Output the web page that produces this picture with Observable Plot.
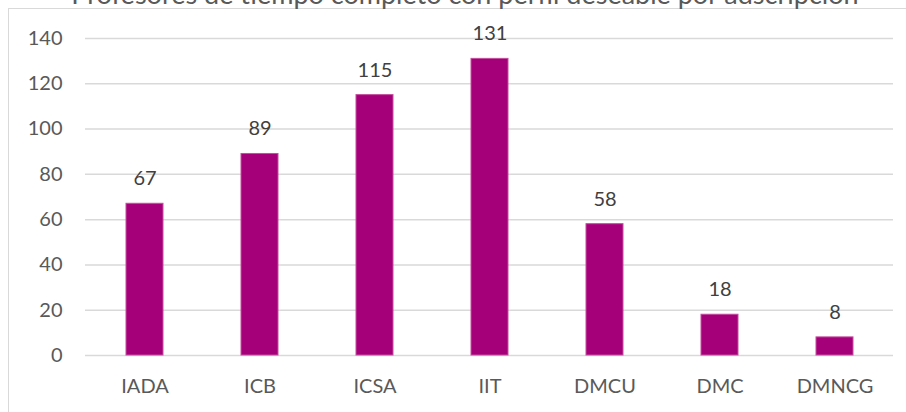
<!DOCTYPE html>
<html>
<head>
<meta charset="utf-8">
<script src="https://cdn.jsdelivr.net/npm/d3@7"></script>
<script src="https://cdn.jsdelivr.net/npm/@observablehq/plot@0.6"></script>
<style>
  html, body { margin: 0; padding: 0; background: #fff; overflow: hidden; }
  #wrap { position: relative; width: 906px; height: 412px; overflow: hidden; }
  #frame { position: absolute; left: 8px; top: 8px; width: 1000px; height: 1000px; border: 1.5px solid #d9d9d9; box-sizing: border-box; }
  #title { position: absolute; left: 12px; width: 906px; top: -23px; line-height: 27px; text-align: center; font: 27px Lato, "Open Sans", sans-serif; color: #595959; white-space: nowrap; }
  #chart { position: absolute; left: 0; top: 0; }
</style>
</head>
<body>
<div id="wrap">
  <div id="frame"></div>
  <div id="title">Profesores de tiempo completo con perfil deseable por adscripción</div>
  <div id="chart"></div>
</div>
<script>
const categories = ["IADA", "ICB", "ICSA", "IIT", "DMCU", "DMC", "DMNCG"];
const values = [67, 89, 115, 131, 58, 18, 8];
const yTicks = [0, 20, 40, 60, 80, 100, 120, 140];

const data = categories.map((c, i) => ({ category: c, value: values[i] }));

const chart = Plot.plot({
  width: 906,
  height: 412,
  marginLeft: 85,
  marginRight: 13,
  marginTop: 38,
  marginBottom: 57,
  style: { fontFamily: "Lato, 'Open Sans', sans-serif", fontSize: "20px", background: "transparent", overflow: "visible" },
  x: { domain: categories, paddingInner: 0.68, paddingOuter: 0.34, label: null },
  y: { domain: [0, 140], label: null },
  marks: [
    Plot.ruleY(yTicks, { stroke: "#d9d9d9", strokeWidth: 1.5 }),
    Plot.axisY({ ticks: yTicks, tickSize: 0, tickPadding: 23, fontSize: 20, color: "#595959", label: null }),
    Plot.axisX({ tickSize: 0, tickPadding: 23, fontSize: 20, color: "#595959", label: null }),
    Plot.barY(data, { x: "category", y: "value", fill: "#a5007a", stroke: "#c34d9e", strokeWidth: 1 }),
    Plot.text(data, { x: "category", y: "value", text: d => String(d.value), dy: -25, fill: "#404040", fontSize: 20 })
  ]
});
document.getElementById("chart").appendChild(chart);
</script>
</body>
</html>
